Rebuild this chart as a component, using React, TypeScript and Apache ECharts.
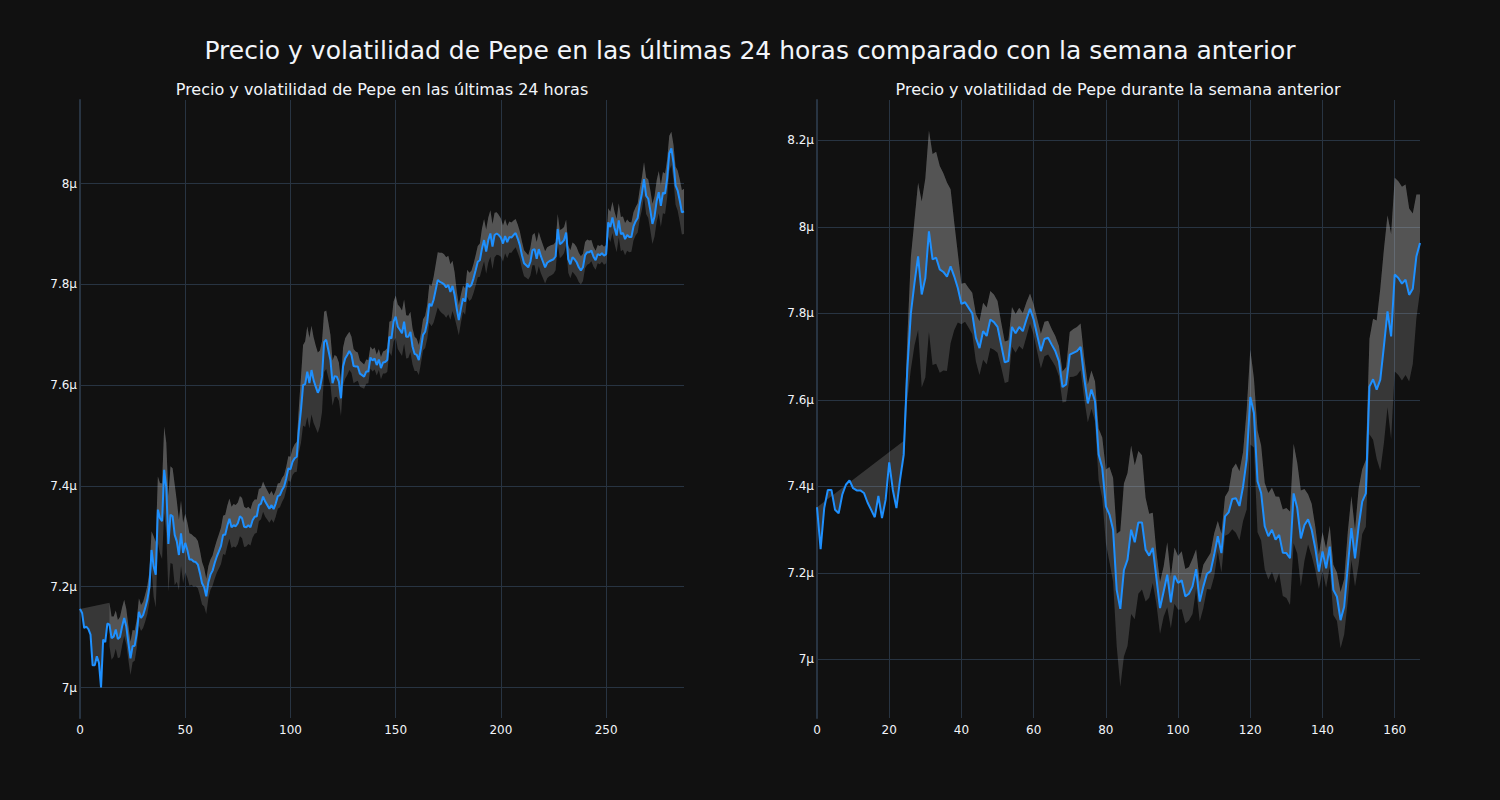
import React, { useEffect, useRef } from "react";
import * as echarts from "echarts";

// Prices are in µ (1e-6) units. Index = sample number (5-min for 24h, hourly for week).
const dayPrice: number[] = [
  7.156, 7.148, 7.118, 7.121, 7.116, 7.105, 7.044, 7.044, 7.062, 7.049,
  7.0, 7.095, 7.09, 7.127, 7.125, 7.098, 7.101, 7.115, 7.096, 7.1,
  7.121, 7.138, 7.121, 7.088, 7.058, 7.082, 7.083, 7.108, 7.15, 7.138,
  7.144, 7.158, 7.174, 7.2, 7.273, 7.24, 7.224, 7.353, 7.336, 7.33,
  7.432, 7.396, 7.285, 7.343, 7.34, 7.303, 7.29, 7.263, 7.306, 7.267,
  7.287, 7.273, 7.254, 7.254, 7.25, 7.249, 7.244, 7.227, 7.207, 7.199,
  7.181, 7.209, 7.224, 7.232, 7.247, 7.26, 7.27, 7.281, 7.303, 7.303,
  7.321, 7.335, 7.318, 7.322, 7.32, 7.326, 7.34, 7.336, 7.319, 7.318,
  7.322, 7.318, 7.332, 7.339, 7.34, 7.362, 7.365, 7.379, 7.369, 7.362,
  7.355, 7.362, 7.354, 7.365, 7.38, 7.382, 7.392, 7.399, 7.415, 7.435,
  7.433, 7.448, 7.455, 7.458, 7.511, 7.551, 7.6, 7.602, 7.627, 7.604,
  7.63, 7.61, 7.597, 7.585, 7.594, 7.617, 7.686, 7.69, 7.67, 7.65,
  7.604, 7.618, 7.617, 7.607, 7.574, 7.637, 7.653, 7.66, 7.668, 7.66,
  7.638, 7.637, 7.637, 7.623, 7.62, 7.617, 7.627, 7.627, 7.655, 7.649,
  7.653, 7.64, 7.651, 7.634, 7.645, 7.646, 7.65, 7.696, 7.693, 7.726,
  7.736, 7.716, 7.71, 7.703, 7.726, 7.696, 7.696, 7.706, 7.677, 7.662,
  7.66, 7.65, 7.673, 7.7, 7.706, 7.726, 7.762, 7.757, 7.769, 7.789,
  7.809, 7.805, 7.803, 7.8, 7.794, 7.799, 7.785, 7.797, 7.779, 7.752,
  7.729, 7.752, 7.772, 7.766, 7.802, 7.795, 7.799, 7.812, 7.828, 7.845,
  7.848, 7.871, 7.888, 7.865, 7.888, 7.901, 7.875, 7.898, 7.901, 7.898,
  7.893, 7.881, 7.896, 7.884, 7.894, 7.893, 7.898, 7.902, 7.891, 7.878,
  7.858, 7.842, 7.838, 7.834, 7.845, 7.868, 7.87, 7.851, 7.87, 7.856,
  7.845, 7.834, 7.843, 7.846, 7.848, 7.85, 7.856, 7.91, 7.88, 7.883,
  7.888, 7.903, 7.85, 7.84, 7.854, 7.85, 7.844, 7.834, 7.828, 7.834,
  7.858, 7.864, 7.864, 7.867, 7.855, 7.848, 7.86, 7.858, 7.862, 7.857,
  7.86, 7.923, 7.914, 7.933, 7.912, 7.897, 7.927, 7.9, 7.902, 7.89,
  7.898, 7.894, 7.894, 7.915, 7.925, 7.932, 7.96, 7.98, 8.009, 7.976,
  7.97, 7.947, 7.92, 7.935, 7.965, 7.983, 7.956, 7.982, 7.98, 8.01,
  8.06, 8.07, 8.042, 7.996, 7.986, 7.966, 7.943, 7.945,
];

// Rolling volatility (µ) of the 24h series; null where the window is not yet full.
const dayVol: (number | null)[] = [
  0, null, null, null, null, null, null, null, null, null, null, null, null, null,
  0.043, 0.043, 0.04, 0.038, 0.038, 0.04, 0.038,
  0.036, 0.035, 0.034, 0.033, 0.032, 0.03,
  0.028, 0.027, 0.026, 0.026, 0.027, 0.028, 0.03,
  0.037, 0.06, 0.065,
  0.066, 0.07, 0.075, 0.086, 0.09,
  0.095, 0.096, 0.095, 0.1,
  0.08, 0.07, 0.065, 0.06, 0.058,
  0.055, 0.052, 0.05, 0.05, 0.048, 0.047, 0.045, 0.042,
  0.038, 0.035, 0.032, 0.03,
  0.03, 0.031, 0.032, 0.034, 0.036, 0.038, 0.04, 0.04, 0.04, 0.041,
  0.042, 0.042, 0.041, 0.04, 0.04, 0.04, 0.038, 0.037, 0.036, 0.035, 0.034, 0.033,
  0.032, 0.031, 0.03, 0.03, 0.029, 0.028, 0.028, 0.027, 0.026,
  0.025, 0.024, 0.024, 0.023, 0.023, 0.024, 0.025, 0.026, 0.028, 0.03,
  0.045, 0.065, 0.08, 0.085, 0.09, 0.09, 0.088, 0.085, 0.082, 0.08, 0.075, 0.07,
  0.06, 0.058, 0.055, 0.05, 0.045, 0.042, 0.04, 0.038, 0.035,
  0.038, 0.04, 0.04, 0.038, 0.036, 0.034,
  0.03, 0.028, 0.026, 0.025, 0.024, 0.024, 0.023, 0.022, 0.022, 0.022, 0.021, 0.021, 0.022, 0.022, 0.023, 0.024,
  0.03, 0.035, 0.04, 0.042, 0.044, 0.045, 0.045, 0.044, 0.043, 0.042, 0.04,
  0.036, 0.034, 0.032, 0.03, 0.03, 0.031, 0.032, 0.034, 0.038, 0.04, 0.045,
  0.05, 0.055, 0.058, 0.06, 0.06, 0.06, 0.058, 0.055, 0.05, 0.045,
  0.035, 0.03, 0.028, 0.026, 0.026, 0.027, 0.028, 0.028, 0.029, 0.03, 0.031, 0.033,
  0.04, 0.042, 0.044, 0.045, 0.046, 0.045, 0.044, 0.042, 0.04, 0.038,
  0.036, 0.034, 0.032, 0.031, 0.03, 0.029, 0.028, 0.028, 0.027, 0.027, 0.026, 0.025, 0.024,
  0.028, 0.03, 0.032, 0.033, 0.034, 0.034, 0.033, 0.032, 0.031, 0.03, 0.03, 0.029, 0.028,
  0.03, 0.028, 0.027, 0.026, 0.026,
  0.027, 0.028, 0.029, 0.03, 0.03, 0.029, 0.028, 0.027, 0.026, 0.025, 0.023, 0.021, 0.02, 0.019, 0.018, 0.018, 0.017, 0.018, 0.018,
  0.028, 0.03, 0.031, 0.032, 0.033, 0.034, 0.034, 0.033, 0.032, 0.031, 0.03, 0.029, 0.028, 0.028, 0.029,
  0.03, 0.032, 0.034, 0.036, 0.038, 0.04, 0.04,
  0.04, 0.041, 0.042, 0.042, 0.041, 0.04, 0.038, 0.035,
  0.033, 0.035, 0.038, 0.04, 0.042, 0.044, 0.045,
];

const weekPrice: number[] = [
  7.352, 7.255, 7.35, 7.392, 7.392, 7.346, 7.338, 7.381, 7.404, 7.414,
  7.396, 7.391, 7.391, 7.385, 7.363, 7.346, 7.329, 7.378, 7.327, 7.369,
  7.456, 7.392, 7.35, 7.416, 7.473, 7.67, 7.801, 7.871, 7.932, 7.844,
  7.882, 7.99, 7.925, 7.929, 7.902, 7.896, 7.885, 7.909, 7.886, 7.859,
  7.822, 7.826, 7.813, 7.8, 7.744, 7.72, 7.759, 7.748, 7.786, 7.78,
  7.769, 7.728, 7.687, 7.69, 7.769, 7.754, 7.769, 7.759, 7.786, 7.811,
  7.786, 7.749, 7.713, 7.741, 7.744, 7.728, 7.713, 7.69, 7.63, 7.636,
  7.705, 7.709, 7.713, 7.723, 7.651, 7.592, 7.624, 7.597, 7.474, 7.443,
  7.354, 7.335, 7.3, 7.161, 7.117, 7.207, 7.231, 7.3, 7.271, 7.317,
  7.317, 7.254, 7.24, 7.258, 7.188, 7.119, 7.157, 7.196, 7.132, 7.194,
  7.177, 7.183, 7.146, 7.152, 7.169, 7.209, 7.134, 7.169, 7.198, 7.204,
  7.242, 7.285, 7.246, 7.331, 7.34, 7.371, 7.373, 7.355, 7.4, 7.462,
  7.607, 7.57, 7.412, 7.385, 7.308, 7.285, 7.3, 7.277, 7.288, 7.247,
  7.246, 7.234, 7.384, 7.35, 7.28, 7.311, 7.324, 7.3, 7.257, 7.203,
  7.25, 7.211, 7.261, 7.161, 7.145, 7.091, 7.122, 7.215, 7.304, 7.234,
  7.307, 7.365, 7.384, 7.631, 7.648, 7.624, 7.647, 7.724, 7.805, 7.747,
  7.89, 7.882, 7.869, 7.878, 7.843, 7.857, 7.932, 7.963,
];

const weekVol: (number | null)[] = [
  0, null, null, null, null, null, null, null, null, null, null, null,
  null, null, null, null, null, null, null, null, null, null, null, null,
  0.032, 0.07, 0.13, 0.145, 0.17, 0.215,
  0.23, 0.233, 0.244, 0.245, 0.239, 0.228, 0.218, 0.178, 0.125, 0.08,
  0.047, 0.045, 0.046, 0.048, 0.055, 0.062, 0.066, 0.066, 0.066, 0.064,
  0.06, 0.052, 0.048, 0.048, 0.046, 0.045, 0.044, 0.042, 0.04, 0.035,
  0.035, 0.038, 0.04, 0.04, 0.039, 0.036, 0.035, 0.035, 0.036, 0.04,
  0.052, 0.055, 0.056, 0.054, 0.048, 0.044, 0.044, 0.046, 0.06, 0.07,
  0.085, 0.11, 0.12, 0.13, 0.18, 0.2, 0.2, 0.195, 0.178, 0.165,
  0.155, 0.12, 0.097, 0.081, 0.06, 0.06, 0.058, 0.075, 0.06, 0.065,
  0.062, 0.067, 0.063, 0.062, 0.064, 0.046, 0.046, 0.05, 0.035, 0.042,
  0.05, 0.035, 0.045, 0.045, 0.05, 0.07, 0.08, 0.08, 0.08, 0.115,
  0.11, 0.08, 0.118, 0.11, 0.1, 0.1, 0.097, 0.1, 0.088, 0.1,
  0.104, 0.108, 0.115, 0.105, 0.111, 0.083, 0.058, 0.06, 0.05, 0.04,
  0.045, 0.045, 0.048, 0.058, 0.056, 0.065, 0.064, 0.08, 0.074, 0.065,
  0.088, 0.075, 0.077, 0.11, 0.14, 0.16, 0.21, 0.224, 0.222, 0.237,
  0.224, 0.224, 0.224, 0.22, 0.2, 0.174, 0.143, 0.112,
];

const mainTitle = "Precio y volatilidad de Pepe en las últimas 24 horas comparado con la semana anterior";
const dayTitle = "Precio y volatilidad de Pepe en las últimas 24 horas";
const weekTitle = "Precio y volatilidad de Pepe durante la semana anterior";

const FONT = '"DejaVu Sans", verdana, arial, sans-serif';
const TXT = "#f2f5fa";
const GRID = "#283442";
const BAND = "rgba(190,190,190,0.22)";
const LINE = "#1e90ff";

function makeBand(gi: number, price: number[], vol: (number | null)[]) {
  return {
    type: "custom",
    xAxisIndex: gi,
    yAxisIndex: gi,
    clip: true,
    silent: true,
    z: 1,
    data: price.map((p, i) => [i, p]),
    encode: { x: 0, y: 1 },
    renderItem: (params: any, api: any) => {
      if (params.dataIndex !== 0) return null;
      const upAll: number[][] = [];
      const upBand: number[][] = [];
      const loBand: number[][] = [];
      const line: number[][] = [];
      price.forEach((p, i) => {
        line.push(api.coord([i, p]));
        const v = vol[i];
        if (v === null || v === undefined) return;
        const u = api.coord([i, p + v]);
        upAll.push(u);
        if (i > 0) {
          upBand.push(u);
          loBand.push(api.coord([i, p - v]));
        }
      });
      const bandPts = upBand.concat(loBand.slice().reverse());
      const upRegion = upAll.concat(line.slice().reverse());
      return {
        type: "group",
        children: [
          { type: "polygon", shape: { points: bandPts }, style: { fill: BAND } },
          { type: "polygon", shape: { points: upRegion }, style: { fill: BAND } },
        ],
      };
    },
  };
}

function xAxis(gi: number, max: number, interval: number) {
  return {
    type: "value",
    gridIndex: gi,
    min: 0,
    max,
    interval,
    axisLine: { show: false },
    axisTick: { show: false },
    axisLabel: { color: TXT, fontSize: 12, fontFamily: FONT, margin: 6, showMaxLabel: false },
    splitLine: { show: true, showMinLine: false, showMaxLine: false, lineStyle: { color: GRID, width: 1 } },
  };
}

function yAxis(gi: number, min: number, max: number) {
  return {
    type: "value",
    gridIndex: gi,
    min,
    max,
    splitNumber: 6,
    minInterval: 0.2,
    maxInterval: 0.2,
    axisLine: { show: true, onZero: false, lineStyle: { color: GRID, width: 2 } },
    axisTick: { show: false },
    axisLabel: {
      color: TXT,
      fontSize: 12,
      fontFamily: FONT,
      margin: 3,
      showMinLabel: false,
      showMaxLabel: false,
      formatter: (v: number) => parseFloat(v.toFixed(1)) + "µ",
    },
    splitLine: { show: true, showMinLine: false, showMaxLine: false, lineStyle: { color: GRID, width: 1 } },
  };
}

function lineSeries(gi: number, price: number[]) {
  return {
    type: "line",
    xAxisIndex: gi,
    yAxisIndex: gi,
    data: price.map((p, i) => [i, p]),
    showSymbol: false,
    symbol: "none",
    lineStyle: { color: LINE, width: 2 },
    itemStyle: { color: LINE },
    z: 3,
    silent: true,
  };
}

function textEl(text: string, x: number, y: number, size: number) {
  return {
    type: "text",
    x,
    y,
    silent: true,
    style: {
      text,
      fill: TXT,
      fontSize: size,
      fontFamily: FONT,
      align: "center",
      verticalAlign: "middle",
      textAlign: "center",
      textVerticalAlign: "middle",
    },
  };
}

export default function App() {
  const ref = useRef<HTMLDivElement>(null);
  useEffect(() => {
    if (!ref.current) return;
    const chart = echarts.init(ref.current, undefined, { renderer: "svg" });
    chart.setOption({
      animation: false,
      backgroundColor: "#111111",
      textStyle: { fontFamily: FONT },
      grid: [
        { left: 80, top: 100, width: 604, height: 618, outerBoundsMode: "none", containLabel: false },
        { left: 817, top: 100, width: 603, height: 618, outerBoundsMode: "none", containLabel: false },
      ],
      xAxis: [xAxis(0, dayPrice.length - 1, 50), xAxis(1, weekPrice.length - 1, 20)],
      yAxis: [yAxis(0, 6.9395, 8.166), yAxis(1, 6.8647, 8.2936)],
      series: [
        makeBand(0, dayPrice, dayVol),
        lineSeries(0, dayPrice),
        makeBand(1, weekPrice, weekVol),
        lineSeries(1, weekPrice),
      ],
      graphic: [
        textEl(mainTitle, 750, 50, 25),
        textEl(dayTitle, 382, 89, 16),
        textEl(weekTitle, 1118, 89, 16),
      ],
    });
    return () => chart.dispose();
  }, []);
  return (
    <div
      ref={ref}
      style={{ position: "fixed", left: 0, top: 0, width: 1500, height: 800 }}
    />
  );
}
